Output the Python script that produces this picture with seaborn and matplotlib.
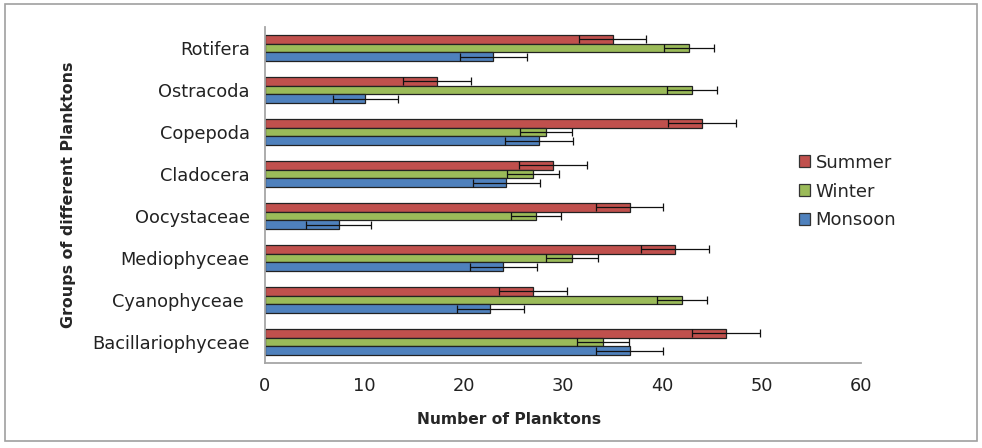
import numpy as np
import pandas as pd
import matplotlib
matplotlib.use('Agg')
import matplotlib.pyplot as plt
import seaborn as sns
from matplotlib.patches import Rectangle, Patch

groups = ['Rotifera', 'Ostracoda', 'Copepoda', 'Cladocera', 'Oocystaceae',
          'Mediophyceae', 'Cyanophyceae ', 'Bacillariophyceae']
seasons = ['Summer', 'Winter', 'Monsoon']

summer = [35.0, 17.3, 44.0, 29.0, 36.7, 41.3, 27.0, 46.4]
winter = [42.7, 43.0, 28.3, 27.0, 27.3, 30.9, 42.0, 34.0]
monsoon = [23.0, 10.1, 27.6, 24.3, 7.4, 24.0, 22.7, 36.7]

summer_err = [3.4, 3.4, 3.4, 3.4, 3.4, 3.4, 3.4, 3.4]
winter_err = [2.5, 2.5, 2.6, 2.6, 2.5, 2.6, 2.5, 2.6]
monsoon_err = [3.4, 3.3, 3.4, 3.4, 3.3, 3.4, 3.4, 3.4]

colors = ['#C0504D', '#9BBB59', '#4F81BD']

rows = []
for s, vals, errs in zip(seasons, [summer, winter, monsoon], [summer_err, winter_err, monsoon_err]):
    for g, v, e in zip(groups, vals, errs):
        rows.append({'Group': g, 'Season': s, 'Value': v, 'Err': e})
df = pd.DataFrame(rows)

sns.set_style('white')
plt.rcParams['font.family'] = ['DejaVu Sans']

fig = plt.figure(figsize=(9.82, 4.48), dpi=100)
ax = fig.add_axes([265 / 982, 1 - 363 / 448, (861 - 265) / 982, (363 - 27) / 448])

sns.barplot(data=df, x='Value', y='Group', hue='Season', order=groups,
            hue_order=seasons, palette=colors, saturation=1, orient='h',
            width=0.64, errorbar=None, edgecolor='#222222', linewidth=0.9,
            ax=ax, legend=False)

# error bars placed on the drawn bars
for cont, s in zip(ax.containers, seasons):
    sub = df[df['Season'] == s].set_index('Group').loc[groups]
    ys = [b.get_y() + b.get_height() / 2 for b in cont]
    ax.errorbar(sub['Value'].values, ys, xerr=sub['Err'].values, fmt='none',
                ecolor='#111111', elinewidth=0.9, capsize=3.2, capthick=0.9)

ax.set_xlim(0, 60)
ax.set_ylim(len(groups) - 0.5, -0.5)
ax.set_xticks(range(0, 61, 10))
ax.set_yticks(np.arange(-0.5, len(groups), 1), minor=True)
ax.set_yticks(range(len(groups)))
ax.set_yticklabels(groups, fontsize=12.8, color='#222222')
ax.tick_params(axis='y', which='major', length=0, pad=11)
ax.tick_params(axis='y', which='minor', length=5, color='#999999', width=1)
ax.tick_params(axis='x', length=5, color='#999999', width=1, labelsize=12.8,
               labelcolor='#222222', pad=5)
for side in ['top', 'right']:
    ax.spines[side].set_visible(False)
for side in ['left', 'bottom']:
    ax.spines[side].set_color('#A6A6A6')
    ax.spines[side].set_linewidth(1.3)

ax.set_xlabel('Number of Planktons', fontsize=11.2, fontweight='bold')
ax.xaxis.set_label_coords(0.41, -0.145)
ax.set_ylabel('Groups of different Planktons', fontsize=11.4, fontweight='bold', labelpad=12)

handles = [Patch(facecolor=c, edgecolor='#333333', linewidth=0.9) for c in colors]
ax.legend(handles, seasons, loc='center left', bbox_to_anchor=(0.868, 0.51),
          frameon=False, fontsize=13, handlelength=0.65, handleheight=0.65,
          handletextpad=0.3, labelspacing=0.6)

fig.patches.append(Rectangle((5 / 982, 1 - 441 / 448), 972 / 982, 437 / 448,
                             transform=fig.transFigure, fill=False,
                             edgecolor='#A0A0A0', linewidth=1.2))

fig.savefig('out.png', dpi=100)
